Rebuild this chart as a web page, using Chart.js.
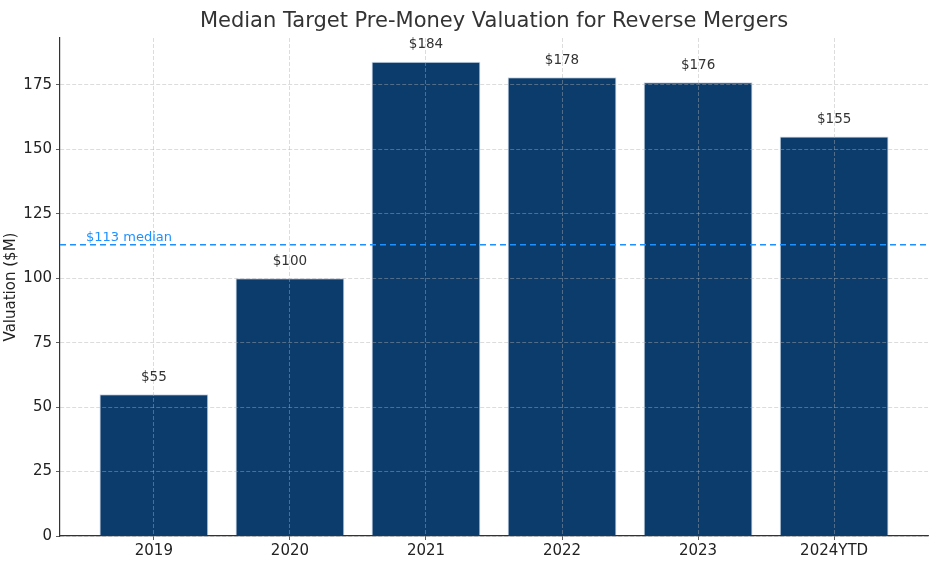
<!DOCTYPE html>
<html>
<head>
<meta charset="utf-8">
<script src="https://cdn.jsdelivr.net/npm/chart.js@4"></script>
<style>
  html, body { margin: 0; padding: 0; background: #fff; }
  #wrap { width: 934px; height: 567px; }
</style>
</head>
<body>
<div id="wrap"><canvas id="myChart" width="934" height="567"></canvas></div>
<script>
// chart data
const years = ['2019', '2020', '2021', '2022', '2023', '2024YTD'];
const valuations = [55, 100, 184, 178, 176, 155];
const medianValue = 113;
const yTicks = [0, 25, 50, 75, 100, 125, 150, 175];

const FONT = "'DejaVu Sans', sans-serif";

// title, median line and value labels on top of the bars
const overlay = {
  id: 'overlay',
  afterDraw(chart) {
    const ctx = chart.ctx;
    const area = chart.chartArea;
    const y = chart.scales.y;
    ctx.save();

    ctx.fillStyle = '#333';
    ctx.font = '21px ' + FONT;
    ctx.textAlign = 'center';
    ctx.textBaseline = 'middle';
    ctx.fillText('Median Target Pre-Money Valuation for Reverse Mergers', (area.left + area.right) / 2, 22);

    const my = y.getPixelForValue(medianValue);
    ctx.strokeStyle = '#1e90ff';
    ctx.lineWidth = 1.6;
    ctx.setLineDash([6, 4]);
    ctx.beginPath();
    ctx.moveTo(area.left, my);
    ctx.lineTo(area.right, my);
    ctx.stroke();
    ctx.setLineDash([]);

    ctx.fillStyle = '#1e90ff';
    ctx.font = '13px ' + FONT;
    ctx.textAlign = 'left';
    ctx.textBaseline = 'alphabetic';
    ctx.fillText('$' + medianValue + ' median', area.left + 26, my - 4);

    ctx.fillStyle = '#333';
    ctx.font = '13.5px ' + FONT;
    ctx.textAlign = 'center';
    ctx.textBaseline = 'middle';
    chart.getDatasetMeta(0).data.forEach((bar, i) => {
      ctx.fillText('$' + valuations[i], bar.x, bar.y - 17);
    });
    ctx.restore();
  }
};

const gridStyle = {
  color: 'rgba(175,175,175,0.55)',
  tickBorderDash: [],
  tickColor: '#333',
  tickLength: 4,
  lineWidth: 0.8,
  offset: false,
  z: 1
};

new Chart(document.getElementById('myChart'), {
  type: 'bar',
  data: {
    datasets: [{
      data: valuations.map((v, i) => ({ x: i, y: v })),
      backgroundColor: '#0b3c6b',
      borderColor: 'rgba(190,205,225,0.8)',
      borderWidth: 1,
      borderSkipped: 'bottom',
      barPercentage: 0.8,
      categoryPercentage: 1.0
    }]
  },
  options: {
    responsive: false,
    animation: false,
    devicePixelRatio: 1,
    layout: { padding: { top: 38, right: 6, left: 0, bottom: 0 } },
    plugins: { legend: { display: false }, tooltip: { enabled: false } },
    scales: {
      x: {
        type: 'linear',
        min: -0.69,
        max: 5.69,
        offset: false,
        afterBuildTicks: (s) => { s.ticks = years.map((_, i) => ({ value: i })); },
        afterFit: (s) => { s.height = 31; },
        ticks: {
          callback: (v) => years[v],
          color: '#222',
          font: { family: FONT, size: 15 },
          padding: 2,
          maxRotation: 0
        },
        grid: gridStyle,
        border: { color: '#333', width: 1.2, dash: [4, 2], z: 2 }
      },
      y: {
        min: 0,
        max: 193.2,
        afterBuildTicks: (s) => { s.ticks = yTicks.map(v => ({ value: v })); },
        afterFit: (s) => { s.width = 60; },
        ticks: {
          color: '#222',
          font: { family: FONT, size: 15 },
          padding: 4
        },
        title: {
          display: true,
          text: 'Valuation ($M)',
          color: '#222',
          font: { family: FONT, size: 15 },
          padding: { top: 2, bottom: 0 }
        },
        grid: gridStyle,
        border: { color: '#333', width: 1.2, dash: [4, 2], z: 2 }
      }
    }
  },
  plugins: [overlay]
});
</script>
</body>
</html>
